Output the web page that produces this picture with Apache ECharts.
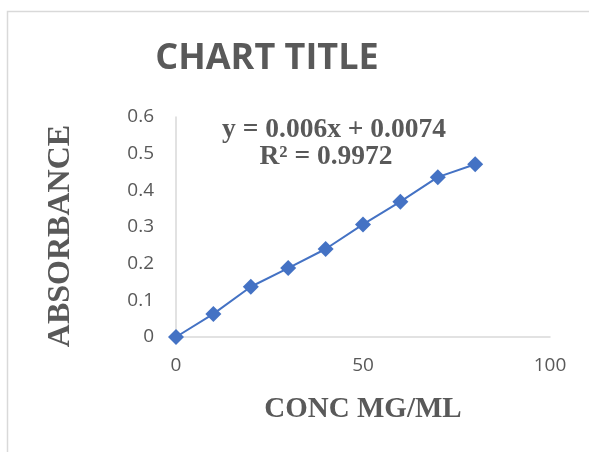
<!DOCTYPE html>
<html>
<head>
<meta charset="utf-8">
<script src="https://cdn.jsdelivr.net/npm/echarts@6/dist/echarts.min.js"></script>
<style>
html,body{margin:0;padding:0;background:#fff;}
#chart{width:589px;height:452px;}
</style>
</head>
<body>
<div id="chart"></div>
<script>
const titleText = 'CHART TITLE';
const xAxisName = 'CONC MG/ML';
const yAxisName = 'ABSORBANCE';
const equationLines = ['y = 0.006x + 0.0074', 'R² = 0.9972'];
const conc = [0, 10, 20, 30, 40, 50, 60, 70, 80];
const absorbance = [0, 0.063, 0.137, 0.188, 0.240, 0.307, 0.369, 0.436, 0.471];
const xTicks = [0, 50, 100];
const yTicks = [0, 0.1, 0.2, 0.3, 0.4, 0.5, 0.6];

const chart = echarts.init(document.getElementById('chart'));
const gray = '#595959';
chart.setOption({
  animation: false,
  backgroundColor: '#fff',
  grid: { left: 176, right: 39, top: 117, bottom: 115 },
  xAxis: {
    type: 'value', min: xTicks[0], max: xTicks[xTicks.length - 1], interval: 50,
    name: xAxisName, nameLocation: 'middle', nameGap: 58,
    nameTextStyle: { fontFamily: 'Liberation Serif', fontWeight: 'bold', fontSize: 29, color: gray },
    axisLine: { show: true, lineStyle: { color: '#d9d9d9', width: 1.5 } },
    axisTick: { show: false },
    splitLine: { show: false },
    axisLabel: { color: gray, fontFamily: 'Open Sans', fontSize: 19, margin: 19 }
  },
  yAxis: {
    type: 'value', min: yTicks[0], max: yTicks[yTicks.length - 1], interval: 0.1,
    axisLine: { show: true, lineStyle: { color: '#d9d9d9', width: 1.5 } },
    axisTick: { show: false },
    splitLine: { show: false },
    axisLabel: { color: gray, fontFamily: 'Open Sans', fontSize: 19, margin: 22 }
  },
  graphic: [
    { type: 'rect', shape: { x: 7.5, y: 11.5, width: 700, height: 600 }, style: { fill: 'none', stroke: '#d9d9d9', lineWidth: 1.5 }, silent: true },
    { type: 'text', x: 267, y: 59, style: { text: titleText, fontFamily: 'Open Sans', fontWeight: 'bold', fontSize: 36, fill: gray, align: 'center', verticalAlign: 'middle' } },
    { type: 'text', x: 61, y: 236, rotation: Math.PI / 2, style: { text: yAxisName, fontFamily: 'Liberation Serif', fontWeight: 'bold', fontSize: 32, fill: gray, align: 'center', verticalAlign: 'middle' } },
    { type: 'text', x: 334, y: 130, z: 10, style: { text: equationLines[0], fontFamily: 'Liberation Serif', fontWeight: 'bold', fontSize: 27.5, fill: gray, align: 'center', verticalAlign: 'middle' } },
    { type: 'text', x: 326, y: 157, z: 10, style: { text: equationLines[1], fontFamily: 'Liberation Serif', fontWeight: 'bold', fontSize: 27.5, fill: gray, align: 'center', verticalAlign: 'middle' } }
  ],
  series: [{
    type: 'line',
    data: conc.map((c, i) => [c, absorbance[i]]),
    symbol: 'diamond', symbolSize: 16,
    itemStyle: { color: '#4472C4' },
    lineStyle: { color: '#4472C4', width: 2 }
  }]
});
</script>
</body>
</html>
